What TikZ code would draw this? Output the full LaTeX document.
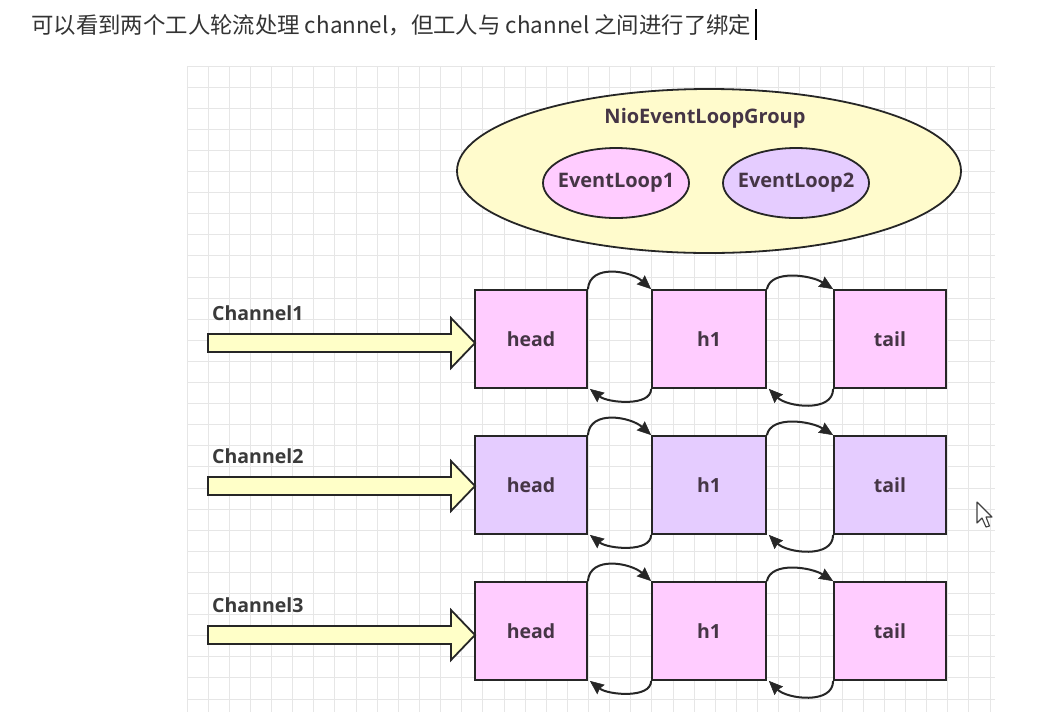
\documentclass[tikz,border=0pt]{standalone}
\usepackage{fontspec}
\setmainfont{Open Sans}
\newfontfamily\cjk{Noto Sans CJK SC}
\usetikzlibrary{arrows.meta,shapes.geometric}
\definecolor{pinkfill}{HTML}{FFCCFF}
\definecolor{lavfill}{HTML}{E5CCFF}
\definecolor{yelfill}{HTML}{FFFBCC}
\definecolor{arrfill}{HTML}{FFFFC8}
\definecolor{gridc}{HTML}{E6E6E6}
\definecolor{edge}{HTML}{262626}
\definecolor{txt}{HTML}{3A3A3A}
\definecolor{boxtxt}{HTML}{453545}
\definecolor{titlec}{HTML}{333333}
\begin{document}
\begin{tikzpicture}[x=1pt,y=-1pt,
  lbl/.style={font=\bfseries\fontsize{19.5}{22}\selectfont, text=txt, inner sep=0pt},
  box/.style={draw=edge, line width=1.8pt, minimum width=112pt, minimum height=98pt,
    inner sep=0pt, font=\bfseries\fontsize{19.5}{22}\selectfont, text=boxtxt},
  pinkbox/.style={box, fill=pinkfill},
  lavbox/.style={box, fill=lavfill},
  loop/.style={ellipse, draw=edge, line width=1.8pt, minimum width=146pt, minimum height=70pt,
    inner sep=-7pt, font=\bfseries\fontsize{20}{22}\selectfont, text=boxtxt},
  link/.style={draw=edge, line width=2pt,
    -{Stealth[length=14pt,width=12pt,inset=1.5pt,fill=edge,line width=0.5pt]}},
  blockarrow/.style={draw=edge, line width=1.8pt, fill=arrfill, line join=miter}
]
\useasboundingbox (0,0) rectangle (1054,713);
\fill[white] (0,0) rectangle (1054,713);
% grid
\foreach \i in {0,...,38} {
  \draw[gridc, line width=0.9pt] ({187+\i*21.13},66) -- ({187+\i*21.13},712);
}
\foreach \j in {0,...,30} {
  \draw[gridc, line width=0.9pt] (187,{66+\j*21.1}) -- (995,{66+\j*21.1});
}
% title
\node[anchor=west, text=titlec, inner sep=0pt, font=\cjk\fontsize{22.4}{26}\selectfont] (title) at (31,25)
  {可以看到两个工人轮流处理 channel，但工人与 channel 之间进行了绑定};
\draw[black, line width=1.3pt] (756,9) -- (756,40);
% group
\node[ellipse, draw=edge, line width=1.8pt, fill=yelfill, minimum width=504pt, minimum height=164pt, inner sep=0pt] (group) at (709,171) {};
\node[lbl, text=boxtxt, font=\bfseries\fontsize{20}{22}\selectfont] (grouplbl) at (705,118) {NioEventLoopGroup};
\node[loop, fill=pinkfill] (el1) at (616,183) {EventLoop1};
\node[loop, fill=lavfill] (el2) at (796,183) {EventLoop2};
% rows
\foreach \r/\y/\st/\ay in {1/339/pinkbox/343, 2/485/lavbox/486, 3/631/pinkbox/635} {
  \node[\st] (head\r) at (531,\y) {head};
  \node[\st, minimum width=114pt] (hone\r) at (709,\y) {h1};
  \node[\st] (tail\r) at (890,\y) {tail};
  \node[lbl, anchor=west] (ch\r) at (212,{\ay-30}) {Channel\r};
  \draw[blockarrow] (208,{\ay-9}) -- (451,{\ay-9}) -- (451,{\ay-25}) -- (475,\ay)
     -- (451,{\ay+25}) -- (451,{\ay+9}) -- (208,{\ay+9}) -- cycle;
  \draw[link] (head\r.north east) .. controls +(2,-26) and +(-20,-18) .. (hone\r.north west);
  \draw[link] (hone\r.south west) .. controls +(0,18) and +(18,14) .. ([xshift=2pt]head\r.south east);
  \draw[link] (hone\r.north east) .. controls +(4,-20) and +(-22,-14) .. (tail\r.north west);
  \draw[link] (tail\r.south west) .. controls +(0,24) and +(18,18) .. ([xshift=2pt]hone\r.south east);
}
% mouse pointer
\draw[fill=white, draw=black!75, line width=1.1pt, line join=round]
  (977,502) -- ++(0,21) -- ++(5,-5) -- ++(4,9) -- ++(3.5,-1) -- ++(-3.5,-9) -- ++(6,0) -- cycle;
\end{tikzpicture}
\end{document}
